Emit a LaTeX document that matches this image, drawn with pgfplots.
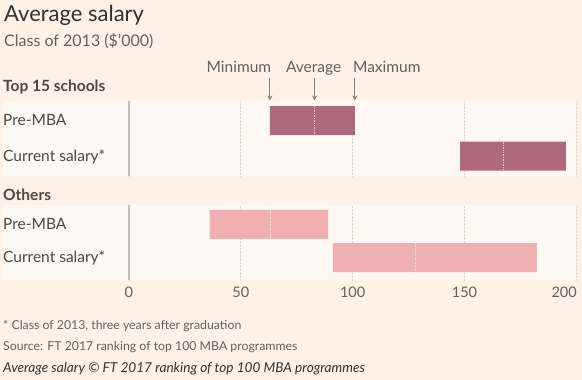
\documentclass[border=0pt]{standalone}
\usepackage{pgfplots}
\pgfplotsset{compat=1.18}
\usepackage{pgfplotstable}
\usepackage{fontspec}
\setmainfont{Lato}
\usetikzlibrary{arrows.meta}
\definecolor{ftbg}{HTML}{FFF1E5}
\definecolor{panel}{HTML}{FEF8F3}
\definecolor{topbar}{HTML}{B0687C}
\definecolor{othbar}{HTML}{F0B0B2}
\definecolor{txt}{HTML}{4D4845}
\definecolor{ttl}{HTML}{33302E}
\definecolor{sub}{HTML}{66605C}
\definecolor{zeroline}{HTML}{C8C0BA}
\definecolor{gridc}{HTML}{DDD5CE}
\definecolor{arrowc}{HTML}{8A8580}

\pgfplotstableread{
y min avg max
55.3 63.0 83.0 101.0
19.8 148.1 167.2 195.3
}\topdata
\pgfplotstableread{
y min avg max
56.0 36.1 63.0 89.0
22.9 91.2 128.0 182.4
}\othdata

\pgfplotsset{panel/.style={
  scale only axis, width=574pt, height=75pt,
  xmin=-56.3, xmax=200.3, ymin=0, ymax=75,
  axis line style={draw=none}, tick style={draw=none},
  ytick=\empty,
  xtick={0,50,100,150},
  extra x ticks={200},
  xmajorgrids, grid style={gridc, densely dotted, line width=0.8pt},
  axis background/.style={fill=panel},
  xbar stacked, bar width=29pt,
  /pgf/number format/assume math mode=true,
  ticklabel style={font=\fontsize{14.5}{16}\selectfont, text=sub},
  clip=false,
}}

\begin{document}
\begin{tikzpicture}[x=1pt,y=1pt]
\fill[ftbg] (0,0) rectangle (582,380);
\useasboundingbox (0,0) rectangle (582,380);

% Top 15 schools panel
\begin{axis}[panel, at={(3pt,204pt)}, anchor=south west,
  xticklabels=\empty, extra x tick labels=\empty]
\addplot[draw=none, fill=none, forget plot] table[x=min, y=y] {\topdata};
\addplot[draw=none, fill=topbar] table[x expr=\thisrow{max}-\thisrow{min}, y=y] {\topdata};
\addplot[stack plots=false, only marks, mark=|, mark size=14.5pt,
  mark options={draw=white, draw opacity=0.6, densely dotted, line width=0.7pt}]
  table[x=avg, y=y] {\topdata};
\draw[zeroline, line width=1.5pt] (axis cs:0,0) -- (axis cs:0,75);
\draw[arrowc, line width=1pt, -{Stealth[length=5pt,width=5pt]}] (axis cs:63,98) -- (axis cs:63,75.5);
\draw[arrowc, line width=1pt, -{Stealth[length=5pt,width=5pt]}] (axis cs:83,98) -- (axis cs:83,75.5);
\draw[arrowc, line width=1pt, -{Stealth[length=5pt,width=5pt]}] (axis cs:101,98) -- (axis cs:101,75.5);
\node[anchor=base east, inner sep=0pt, text=sub, font=\fontsize{15.5}{17}\selectfont] at ([xshift=1.5pt]axis cs:63,103) {Minimum};
\node[anchor=base, inner sep=0pt, text=sub, font=\fontsize{15.5}{17}\selectfont] at ([xshift=-1pt]axis cs:83,103) {Average};
\node[anchor=base west, inner sep=0pt, text=sub, font=\fontsize{15.5}{17}\selectfont] at ([xshift=-2pt]axis cs:101,103) {Maximum};
\end{axis}

% Others panel
\begin{axis}[panel, at={(3pt,99.5pt)}, anchor=south west,
  xticklabel style={yshift=-3pt},
  extra x tick style={xticklabel style={anchor=north east, xshift=4pt}}]
\addplot[draw=none, fill=none, forget plot] table[x=min, y=y] {\othdata};
\addplot[draw=none, fill=othbar] table[x expr=\thisrow{max}-\thisrow{min}, y=y] {\othdata};
\addplot[stack plots=false, only marks, mark=|, mark size=14.5pt,
  mark options={draw=white, draw opacity=0.6, densely dotted, line width=0.7pt}]
  table[x=avg, y=y] {\othdata};
\draw[zeroline, line width=1.5pt] (axis cs:0,0) -- (axis cs:0,75);
\end{axis}

% Titles and labels
\node[anchor=base west, inner sep=0pt, text=ttl, font=\fontsize{22}{24}\selectfont] at (4,358) {Average salary};
\node[anchor=base west, inner sep=0pt, text=sub, font=\fontsize{16}{18}\selectfont] at (4,333) {Class of 2013 (\$’000)};
\node[anchor=base west, inner sep=0pt, text=txt, font=\fontsize{15.5}{17}\selectfont\bfseries] at (3,288) {Top 15 schools};
\node[anchor=base west, inner sep=0pt, text=txt, font=\fontsize{15.5}{17}\selectfont\bfseries] at (3,179) {Others};
\node[anchor=base west, inner sep=0pt, text=txt, font=\fontsize{15.5}{17}\selectfont] at (3,254) {Pre-MBA};
\node[anchor=base west, inner sep=0pt, text=txt, font=\fontsize{15.5}{17}\selectfont] at (3,218.5) {Current salary*};
\node[anchor=base west, inner sep=0pt, text=txt, font=\fontsize{15.5}{17}\selectfont] at (3,150.2) {Pre-MBA};
\node[anchor=base west, inner sep=0pt, text=txt, font=\fontsize{15.5}{17}\selectfont] at (3,117.1) {Current salary*};
\node[anchor=base west, inner sep=0pt, text=sub, font=\fontsize{12.3}{14}\selectfont] at (3,50) {* Class of 2013, three years after graduation};
\node[anchor=base west, inner sep=0pt, text=sub, font=\fontsize{12.3}{14}\selectfont] at (3,29) {Source: FT 2017 ranking of top 100 MBA programmes};
\node[anchor=base west, inner sep=0pt, text=ttl, font=\fontsize{13.6}{15}\selectfont\itshape] at (3,7) {Average salary © FT 2017 ranking of top 100 MBA programmes};
\end{tikzpicture}
\end{document}
